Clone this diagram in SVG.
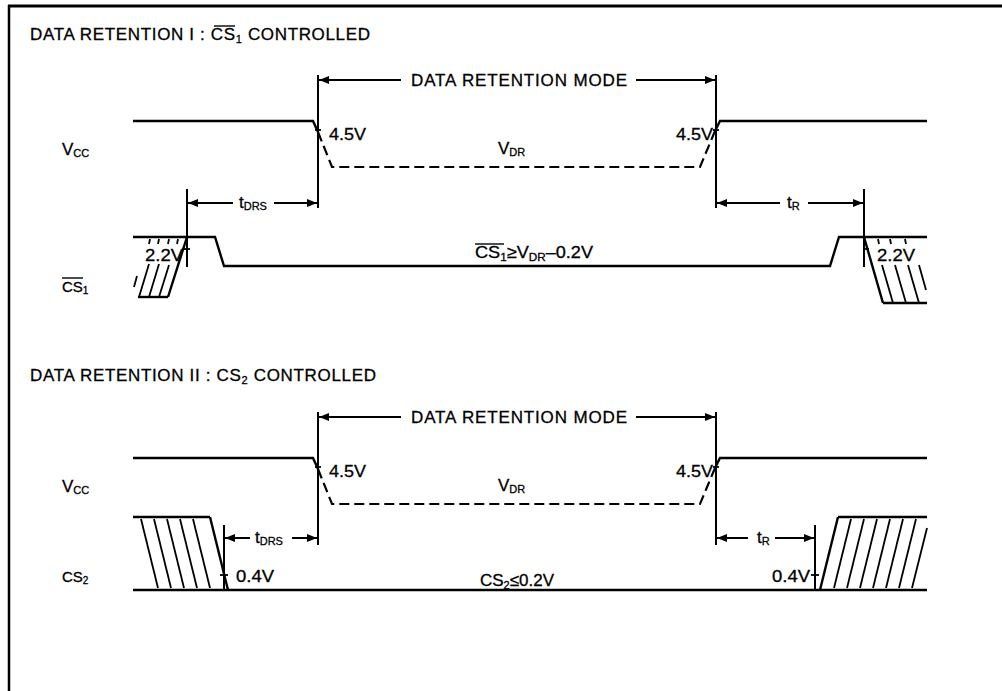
<svg xmlns="http://www.w3.org/2000/svg" width="1002" height="691" viewBox="0 0 1002 691">
<style>
.t{font-family:"Liberation Sans",Arial,sans-serif;font-size:17px;fill:#000;stroke:#000;stroke-width:0.3}
.s{font-size:11px}
.l{font-size:15px}
.ls{font-size:10px}
.w{stroke:#000;stroke-width:2.4;fill:none}
.th{stroke:#000;stroke-width:2;fill:none}
.d{stroke:#000;stroke-width:2.2;fill:none;stroke-dasharray:10 5}
.h{stroke:#000;stroke-width:1.8;fill:none}
.o{stroke:#000;stroke-width:1.4}
</style>
<defs>
<marker id="ah" viewBox="0 0 10 8" refX="10" refY="4" markerWidth="10" markerHeight="8" markerUnits="userSpaceOnUse" orient="auto">
<path d="M0,0 L10,4 L0,8 z" fill="#000"/>
</marker>
</defs>
<rect width="1002" height="691" fill="#fff"/>
<g id="frame">
<line x1="8" y1="6" x2="1002" y2="6" stroke="#000" stroke-width="3"/>
<line x1="9" y1="5" x2="9" y2="691" stroke="#000" stroke-width="2.5"/>
</g>

<g id="section1">
<g id="title1">
<text class="t" x="30" y="40" textLength="340" lengthAdjust="spacing">DATA RETENTION I : CS<tspan class="s" dy="3">1</tspan><tspan dy="-3"> CONTROLLED</tspan></text>
<line class="o" x1="214" y1="26" x2="235" y2="26"/>
</g>
<g id="vcc1">
<text class="t" x="62" y="155">V<tspan class="s" dy="2">CC</tspan></text>
<polyline class="w" points="133,121 313,121 318,132"/>
<polyline class="d" points="318,132 332,167 700,167 715,131"/>
<polyline class="w" points="715,131 720,121 927,121"/>
<line class="h" x1="315" y1="130" x2="321" y2="130"/>
<line class="h" x1="713" y1="130" x2="719" y2="130"/>
<text class="t" x="329" y="140" textLength="37" lengthAdjust="spacingAndGlyphs">4.5V</text>
<text class="t" x="676" y="140" textLength="37" lengthAdjust="spacingAndGlyphs">4.5V</text>
<text class="t" x="498" y="154">V<tspan class="s" dy="2">DR</tspan></text>
</g>
<g id="mode1">
<line class="th" x1="318" y1="75" x2="318" y2="208"/>
<line class="th" x1="716" y1="75" x2="716" y2="208"/>
<line class="th" x1="401" y1="80" x2="319" y2="80" marker-end="url(#ah)"/>
<line class="th" x1="636" y1="80" x2="715" y2="80" marker-end="url(#ah)"/>
<text class="t" x="411" y="86" textLength="216" lengthAdjust="spacing">DATA RETENTION MODE</text>
</g>
<g id="tdrs1">
<line class="th" x1="187" y1="189" x2="187" y2="267"/>
<line class="th" x1="233" y1="203" x2="188" y2="203" marker-end="url(#ah)"/>
<line class="th" x1="274" y1="203" x2="317" y2="203" marker-end="url(#ah)"/>
<text class="t" x="239" y="208">t<tspan class="s" dy="2">DRS</tspan></text>
</g>
<g id="tr1">
<line class="th" x1="864" y1="189" x2="864" y2="267"/>
<line class="th" x1="780" y1="203" x2="717" y2="203" marker-end="url(#ah)"/>
<line class="th" x1="808" y1="203" x2="863" y2="203" marker-end="url(#ah)"/>
<text class="t" x="787" y="208">t<tspan class="s" dy="2">R</tspan></text>
</g>
<g id="cs1">
<text class="t l" x="62" y="292">CS<tspan class="ls" dy="2">1</tspan></text>
<line class="o" x1="62" y1="278" x2="83" y2="278"/>
<polyline class="w" points="133,237 215,237 224,266 830,266 839,237 927,237"/>
<text class="t" x="475" y="258" textLength="118" lengthAdjust="spacingAndGlyphs">CS<tspan class="s" dy="3">1</tspan><tspan dy="-3">≥V</tspan><tspan class="s" dy="3">DR</tspan><tspan dy="-3">–0.2V</tspan></text>
<line class="o" x1="475" y1="244" x2="504" y2="244"/>
<line class="w" x1="187" y1="237" x2="168" y2="297"/>
<line class="w" x1="138" y1="297" x2="168" y2="297"/>
<line class="h" x1="139" y1="297" x2="149" y2="264"/>
<line class="h" x1="149" y1="297" x2="159" y2="264"/>
<line class="h" x1="159" y1="297" x2="169" y2="265"/>
<line class="h" x1="134" y1="287" x2="137" y2="276"/>
<line class="h" x1="150" y1="239" x2="149" y2="244"/>
<line class="h" x1="159" y1="239" x2="158" y2="244"/>
<line class="h" x1="169" y1="239" x2="168" y2="244"/>
<line class="h" x1="178" y1="239" x2="177" y2="244"/>
<line class="h" x1="184" y1="249" x2="190" y2="249"/>
<text class="t" x="145" y="261" textLength="38" lengthAdjust="spacingAndGlyphs">2.2V</text>
<line class="w" x1="864" y1="237" x2="883" y2="303"/>
<line class="w" x1="883" y1="303" x2="927" y2="303"/>
<line class="h" x1="882" y1="265" x2="893" y2="303"/>
<line class="h" x1="895" y1="265" x2="906" y2="303"/>
<line class="h" x1="908" y1="265" x2="919" y2="303"/>
<line class="h" x1="919" y1="265" x2="926" y2="290"/>
<line class="h" x1="878" y1="239" x2="879" y2="244"/>
<line class="h" x1="890" y1="239" x2="891" y2="244"/>
<line class="h" x1="905" y1="239" x2="906" y2="244"/>
<line class="h" x1="864" y1="249" x2="869" y2="249"/>
<text class="t" x="877" y="261" textLength="38" lengthAdjust="spacingAndGlyphs">2.2V</text>
</g>
</g>

<g id="section2">
<g id="title2">
<text class="t" x="30" y="381" textLength="346" lengthAdjust="spacing">DATA RETENTION II : CS<tspan class="s" dy="3">2</tspan><tspan dy="-3"> CONTROLLED</tspan></text>
</g>
<g id="vcc2">
<text class="t" x="62" y="492">V<tspan class="s" dy="2">CC</tspan></text>
<polyline class="w" points="133,458 313,458 318,469"/>
<polyline class="d" points="318,469 332,504 700,504 715,468"/>
<polyline class="w" points="715,468 720,458 927,458"/>
<line class="h" x1="315" y1="467" x2="321" y2="467"/>
<line class="h" x1="713" y1="467" x2="719" y2="467"/>
<text class="t" x="329" y="477" textLength="37" lengthAdjust="spacingAndGlyphs">4.5V</text>
<text class="t" x="676" y="477" textLength="37" lengthAdjust="spacingAndGlyphs">4.5V</text>
<text class="t" x="498" y="491">V<tspan class="s" dy="2">DR</tspan></text>
</g>
<g id="mode2">
<line class="th" x1="318" y1="412" x2="318" y2="545"/>
<line class="th" x1="716" y1="412" x2="716" y2="545"/>
<line class="th" x1="401" y1="417" x2="319" y2="417" marker-end="url(#ah)"/>
<line class="th" x1="636" y1="417" x2="715" y2="417" marker-end="url(#ah)"/>
<text class="t" x="411" y="423" textLength="216" lengthAdjust="spacing">DATA RETENTION MODE</text>
</g>
<g id="tdrs2">
<line class="th" x1="224" y1="525" x2="224" y2="590"/>
<line class="th" x1="250" y1="538" x2="225" y2="538" marker-end="url(#ah)"/>
<line class="th" x1="292" y1="538" x2="317" y2="538" marker-end="url(#ah)"/>
<text class="t" x="255" y="543">t<tspan class="s" dy="2">DRS</tspan></text>
</g>
<g id="tr2">
<line class="th" x1="815" y1="525" x2="815" y2="590"/>
<line class="th" x1="748" y1="538" x2="717" y2="538" marker-end="url(#ah)"/>
<line class="th" x1="775" y1="538" x2="814" y2="538" marker-end="url(#ah)"/>
<text class="t" x="757" y="543">t<tspan class="s" dy="2">R</tspan></text>
</g>
<g id="cs2">
<text class="t l" x="62" y="582">CS<tspan class="ls" dy="2">2</tspan></text>
<line class="w" x1="133" y1="590" x2="927" y2="590"/>
<line class="w" x1="133" y1="517" x2="210" y2="517"/>
<line class="w" x1="210" y1="517" x2="228" y2="590"/>
<line class="h" x1="141" y1="519" x2="158" y2="588"/>
<line class="h" x1="154" y1="519" x2="171" y2="588"/>
<line class="h" x1="167" y1="519" x2="184" y2="588"/>
<line class="h" x1="180" y1="519" x2="197" y2="588"/>
<line class="h" x1="193" y1="519" x2="210" y2="588"/>
<line class="h" x1="220" y1="575" x2="228" y2="575"/>
<text class="t" x="236" y="582" textLength="38" lengthAdjust="spacingAndGlyphs">0.4V</text>
<line class="w" x1="820" y1="590" x2="838" y2="517"/>
<line class="w" x1="838" y1="517" x2="927" y2="517"/>
<line class="h" x1="834" y1="588" x2="851" y2="519"/>
<line class="h" x1="847" y1="588" x2="864" y2="519"/>
<line class="h" x1="860" y1="588" x2="877" y2="519"/>
<line class="h" x1="873" y1="588" x2="890" y2="519"/>
<line class="h" x1="886" y1="588" x2="903" y2="519"/>
<line class="h" x1="899" y1="588" x2="916" y2="519"/>
<line class="h" x1="912" y1="588" x2="927" y2="528"/>
<line class="h" x1="811" y1="575" x2="819" y2="575"/>
<text class="t" x="772" y="582" textLength="38" lengthAdjust="spacingAndGlyphs">0.4V</text>
<text class="t" x="480" y="586" textLength="74" lengthAdjust="spacingAndGlyphs">CS<tspan class="s" dy="3">2</tspan><tspan dy="-3">≤0.2V</tspan></text>
</g>
</g>
</svg>
